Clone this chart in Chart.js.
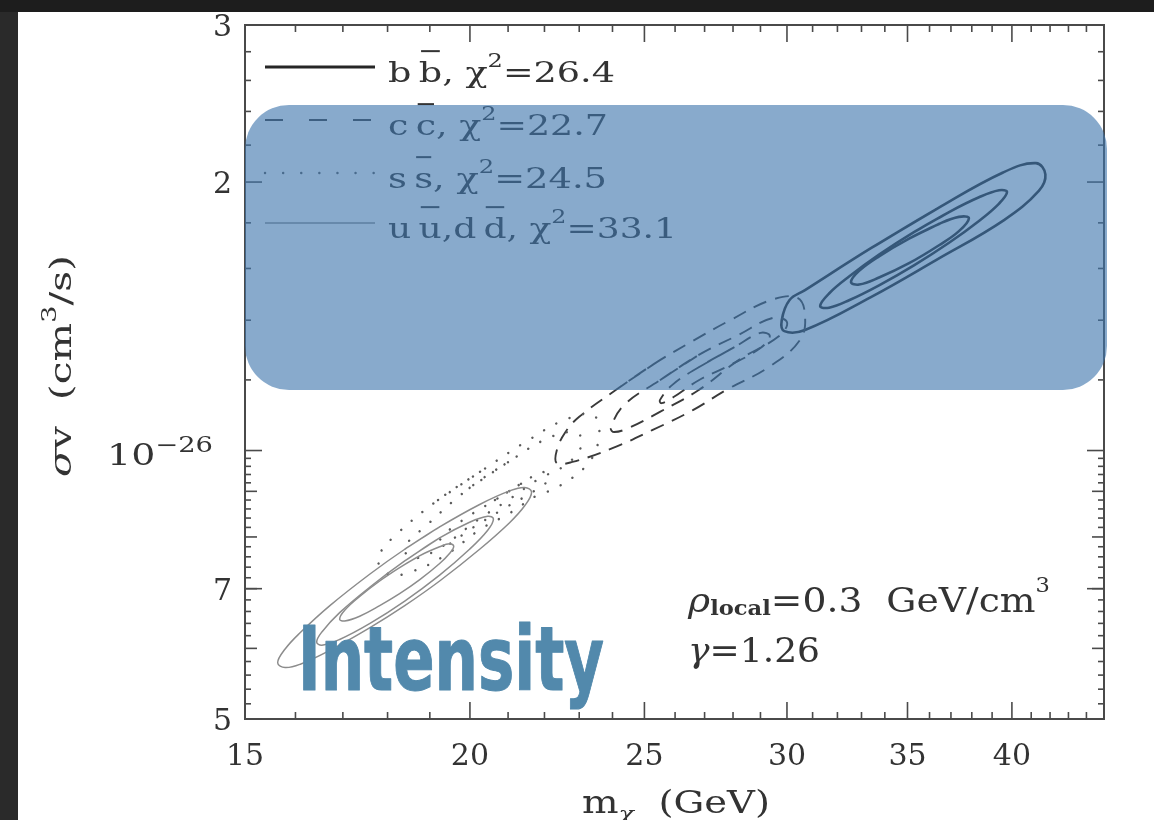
<!DOCTYPE html>
<html lang="en">
<head>
    <meta charset="UTF-8">
    <title>sigma v vs m_chi</title>
    <script src="https://cdn.jsdelivr.net/npm/chart.js"></script>
    <style>
        html, body { margin: 0; padding: 0; }
        body { width: 1154px; height: 820px; background: #1d1d1d; position: relative; overflow: hidden; }
        .leftband { position: absolute; left: 0; top: 12px; width: 18px; height: 808px; background: #2a2a2a; }
        .sheet { position: absolute; left: 18px; top: 12px; width: 1136px; height: 808px; background: #fff; }
        #plot { position: absolute; left: 0; top: 0; }
    </style>
</head>
<body>
    <div class="leftband"></div>
    <div class="sheet"></div>
    <canvas id="plot" width="1154" height="820"></canvas>
    <script>
        // mass (GeV) , sigma v (units of 1e-26 cm^3/s)
        const bbOuter = [[33.4,1.686],[36.3,1.864],[39.55,2.05],[41.25,2.10],[41.75,2.04],[41.4,1.955],[39.6,1.813],[36.3,1.635],[33.4,1.486],[30.7,1.365],[29.9,1.361],[29.8,1.40],[30.1,1.475],[30.7,1.513]];
        const bbMid = [[35.29,1.757],[36.91,1.851],[38.35,1.923],[39.35,1.958],[39.75,1.949],[39.35,1.892],[38.35,1.809],[36.91,1.710],[35.29,1.613],[33.75,1.532],[32.48,1.474],[31.66,1.446],[31.30,1.452],[31.66,1.500],[32.48,1.567],[33.75,1.658]];
        const bbInner = [[35.07,1.728],[36.44,1.795],[37.38,1.828],[37.86,1.822],[37.38,1.762],[36.44,1.699],[35.07,1.622],[33.75,1.563],[32.90,1.535],[32.56,1.545],[32.90,1.590],[33.75,1.651]];

        const ccOuter = [[24.1,1.169],[25.3,1.25],[26.6,1.327],[27.9,1.40],[29.4,1.475],[30.4,1.483],[30.7,1.418],[30.5,1.33],[29.3,1.24],[27.75,1.169],[26.6,1.11],[25.25,1.054],[24.0,1.006],[22.8,0.971],[22.35,0.968],[22.35,1.001],[22.6,1.049],[23.0,1.091]];
        const ccMid = [[25.5,1.199],[26.8,1.28],[28.2,1.348],[29.45,1.408],[30.0,1.393],[29.7,1.344],[28.2,1.263],[26.8,1.169],[25.5,1.105],[24.5,1.06],[24.05,1.049],[23.95,1.06],[24.35,1.124]];
        const ccInner = [[26.8,1.24],[28.05,1.306],[29.0,1.355],[29.35,1.344],[29.0,1.303],[27.9,1.247],[26.8,1.199],[25.95,1.148],[25.55,1.13],[25.5,1.139],[25.9,1.184]];

        const ssOuter = [[19.2,0.88],[20.33,0.951],[21.55,1.027],[22.57,1.082],[23.4,1.096],[23.6,1.049],[23.3,0.971],[22.34,0.908],[21.8,0.891],[21.05,0.851],[20.25,0.815],[19.4,0.764],[18.55,0.731],[18.05,0.726],[17.8,0.746],[17.8,0.764],[18.2,0.805]];
        const ssMid = [[19.99,0.908],[21.17,0.981],[21.98,1.027],[22.77,1.049],[23.1,1.027],[22.72,0.971],[21.8,0.927],[21.0,0.88],[20.2,0.836],[19.25,0.778],[18.6,0.757],[18.4,0.778],[18.93,0.825]];
        const ssInner = [[20.65,0.88],[21.43,0.922],[21.95,0.946],[22.1,0.927],[21.68,0.899],[20.91,0.862],[19.99,0.815],[19.4,0.783],[19.25,0.794],[19.74,0.831]];

        const uuOuter = [[18.40,0.775],[19.24,0.821],[20.25,0.870],[21.04,0.901],[21.45,0.909],[21.64,0.898],[21.45,0.867],[21.04,0.830],[20.25,0.775],[19.24,0.714],[18.40,0.670],[17.60,0.633],[16.72,0.597],[16.10,0.576],[15.79,0.571],[15.64,0.578],[15.79,0.599],[16.10,0.625],[16.72,0.670],[17.60,0.727]];
        const uuMid = [[18.40,0.752],[19.24,0.798],[19.99,0.831],[20.46,0.844],[20.61,0.838],[20.46,0.814],[19.99,0.775],[19.24,0.725],[18.40,0.678],[17.60,0.640],[16.93,0.614],[16.55,0.605],[16.44,0.610],[16.55,0.626],[16.93,0.658],[17.60,0.703]];
        const uuInner = [[18.28,0.739],[18.75,0.762],[19.24,0.780],[19.49,0.786],[19.59,0.781],[19.49,0.767],[19.24,0.747],[18.75,0.716],[18.28,0.691],[17.82,0.670],[17.37,0.652],[17.04,0.644],[16.93,0.647],[17.04,0.662],[17.37,0.686],[17.82,0.714]];

        const massTicks = [15, 20, 25, 30, 35, 40];
        const sigvTicks = [0.5, 0.7, 1, 2, 3];
        const sigvLabels = ['5', '7', '10', '2', '3'];
        const legendChi2 = ['26.4', '22.7', '24.5', '33.1'];

        const serif = '"DejaVu Serif", "Liberation Serif", serif';
        const ink = '#333';

        function loop(pts) {
            // repeat the first two points so the spline closes smoothly
            return pts.concat(pts.slice(0, 2)).map(p => ({ x: p[0], y: p[1] }));
        }

        const styles = {
            bb: { borderColor: '#262626', borderWidth: 2.6, borderDash: [] },
            cc: { borderColor: '#3a3a3a', borderWidth: 1.9, borderDash: [14, 9] },
            ss: { borderColor: '#5a5a5a', borderWidth: 2.4, borderDash: [0.1, 14], borderCapStyle: 'round' },
            uu: { borderColor: '#8c8c8c', borderWidth: 1.5, borderDash: [] }
        };

        function contour(pts, kind) {
            return Object.assign({ data: loop(pts), showLine: true, fill: false, tension: 0.4, pointRadius: 0 }, styles[kind]);
        }

        function partFont(p, size) {
            const s = (p.sup || p.sub) ? size * (p.scale || 0.66) : size;
            return (p.italic ? 'italic ' : '') + (p.bold ? 'bold ' : '') + s.toFixed(1) + 'px ' + serif;
        }
        function runWidth(ctx, parts, size) {
            let w = 0;
            for (const p of parts) { ctx.font = partFont(p, size); w += ctx.measureText(p.t).width; }
            return w;
        }
        function drawRun(ctx, parts, x, y, size, width, align) {
            const natural = runWidth(ctx, parts, size);
            const sx = width ? width / natural : 1;
            const total = natural * sx;
            const x0 = align === 'right' ? x - total : align === 'center' ? x - total / 2 : x;
            ctx.save();
            ctx.translate(x0, y);
            ctx.scale(sx, 1);
            ctx.textAlign = 'left';
            ctx.textBaseline = 'alphabetic';
            let cx = 0;
            for (const p of parts) {
                ctx.font = partFont(p, size);
                const dy = p.sup ? -(p.rise || 0.45) * size : p.sub ? (p.drop || 0.28) * size : 0;
                ctx.fillText(p.t, cx, dy);
                const w = ctx.measureText(p.t).width;
                if (p.over) ctx.fillRect(cx + w * 0.1, -1.18 * size, w * 0.8, 2);
                cx += w;
            }
            ctx.restore();
        }

        const legendRows = [
            { kind: 'bb', y: 67, width: 227, parts: [{ t: 'b\u2009' }, { t: 'b', over: true }, { t: ', \u03c7' }, { t: '2', sup: true, rise: 0.55 }, { t: '=' + legendChi2[0] }] },
            { kind: 'cc', y: 120, width: 220, parts: [{ t: 'c\u2009' }, { t: 'c', over: true }, { t: ', \u03c7' }, { t: '2', sup: true, rise: 0.55 }, { t: '=' + legendChi2[1] }] },
            { kind: 'ss', y: 173, width: 219, parts: [{ t: 's\u2009' }, { t: 's', over: true }, { t: ', \u03c7' }, { t: '2', sup: true, rise: 0.55 }, { t: '=' + legendChi2[2] }] },
            { kind: 'uu', y: 223, width: 289, parts: [{ t: 'u\u2009' }, { t: 'u', over: true }, { t: ',d\u2009' }, { t: 'd', over: true }, { t: ', \u03c7' }, { t: '2', sup: true, rise: 0.55 }, { t: '=' + legendChi2[3] }] }
        ];

        const decor = {
            id: 'decor',
            afterDatasetsDraw(chart) {
                const ctx = chart.ctx;
                const a = chart.chartArea;
                const xs = chart.scales.x, ys = chart.scales.y;
                ctx.save();

                // frame and inward ticks
                ctx.strokeStyle = '#4a4a4a';
                ctx.lineWidth = 2;
                ctx.strokeRect(a.left, a.top, a.right - a.left, a.bottom - a.top);
                ctx.lineWidth = 1.6;
                const seg = (x1, y1, x2, y2) => { ctx.beginPath(); ctx.moveTo(x1, y1); ctx.lineTo(x2, y2); ctx.stroke(); };
                for (let m = 15; m <= 44; m++) {
                    const len = massTicks.includes(m) ? 17 : 7;
                    const px = xs.getPixelForValue(m);
                    seg(px, a.bottom, px, a.bottom - len);
                    seg(px, a.top, px, a.top + len);
                }
                const yt = [];
                for (let k = 26; k <= 49; k++) yt.push([k / 50, k % 5 === 0 ? 12 : 6]);
                yt.push([1.2, 6], [1.4, 6], [1.6, 6], [1.8, 6], [2.2, 6], [2.4, 6], [2.6, 6], [2.8, 6]);
                sigvTicks.forEach(v => yt.push([v, 17]));
                yt.forEach(([v, len]) => {
                    const py = ys.getPixelForValue(v);
                    seg(a.left, py, a.left + len, py);
                    seg(a.right, py, a.right - len, py);
                });

                // tick labels
                ctx.fillStyle = ink;
                massTicks.forEach(m => drawRun(ctx, [{ t: String(m) }], xs.getPixelForValue(m), 765, 30, 0, 'center'));
                sigvTicks.forEach((v, i) => {
                    const py = ys.getPixelForValue(v) + 11;
                    if (v === 1) {
                        drawRun(ctx, [{ t: sigvLabels[i] }, { t: '\u221226', sup: true, rise: 0.43, scale: 0.72 }], 213, py + 3, 30, 106, 'right');
                    } else {
                        drawRun(ctx, [{ t: sigvLabels[i] }], 232, py, 30, 0, 'right');
                    }
                });

                // axis titles
                drawRun(ctx, [{ t: 'm' }, { t: '\u03c7', sub: true, drop: 0.25, italic: true }, { t: '  (GeV)' }], 676, 813, 32, 188, 'center');
                ctx.save();
                ctx.translate(71, 366);
                ctx.rotate(-Math.PI / 2);
                drawRun(ctx, [{ t: '\u03c3', italic: true }, { t: 'v  (cm' }, { t: '3', sup: true, rise: 0.5 }, { t: '/s)' }], 0, 0, 30, 222, 'center');
                ctx.restore();

                // legend
                legendRows.forEach(r => {
                    const st = styles[r.kind];
                    ctx.save();
                    ctx.strokeStyle = st.borderColor;
                    ctx.lineWidth = r.kind === 'bb' ? 3 : st.borderWidth;
                    ctx.lineCap = st.borderCapStyle || 'butt';
                    ctx.setLineDash(r.kind === 'cc' ? [18, 26] : r.kind === 'ss' ? [0.1, 18] : []);
                    seg(265, r.y, 375, r.y);
                    ctx.restore();
                    drawRun(ctx, r.parts, 388, r.y + 15, 27, r.width, 'left');
                });

                // parameter note
                drawRun(ctx, [{ t: '\u03c1', italic: true }, { t: 'local', sub: true, bold: true, scale: 0.6, drop: 0.1 }, { t: '=0.3  GeV/cm' }, { t: '3', sup: true, rise: 0.62, scale: 0.6 }], 688, 612, 33, 362, 'left');
                drawRun(ctx, [{ t: '\u03b3', italic: true }, { t: '=1.26' }], 688, 662, 33, 132, 'left');

                // presentation highlight box
                const hx = 245, hy = 105, hw = 862, hh = 285, r = 44;
                ctx.fillStyle = 'rgba(63,118,173,0.62)';
                ctx.beginPath();
                ctx.moveTo(hx + r, hy);
                ctx.lineTo(hx + hw - r, hy);
                ctx.arcTo(hx + hw, hy, hx + hw, hy + r, r);
                ctx.lineTo(hx + hw, hy + hh - r);
                ctx.arcTo(hx + hw, hy + hh, hx + hw - r, hy + hh, r);
                ctx.lineTo(hx + r, hy + hh);
                ctx.arcTo(hx, hy + hh, hx, hy + hh - r, r);
                ctx.lineTo(hx, hy + r);
                ctx.arcTo(hx, hy, hx + r, hy, r);
                ctx.closePath();
                ctx.fill();

                // overlay word
                ctx.font = 'bold 89px "Liberation Sans Narrow", "DejaVu Sans Condensed", "Liberation Sans", sans-serif';
                const w = ctx.measureText('Intensity').width;
                ctx.translate(298, 690);
                ctx.scale(306 / w, 1);
                ctx.fillStyle = '#5289ac';
                ctx.strokeStyle = '#5289ac';
                ctx.lineWidth = 1;
                ctx.lineJoin = 'round';
                ctx.textBaseline = 'alphabetic';
                ctx.fillText('Intensity', 0, 0);
                ctx.strokeText('Intensity', 0, 0);
                ctx.restore();
            }
        };

        new Chart(document.getElementById('plot'), {
            type: 'scatter',
            data: {
                datasets: [
                    contour(uuOuter, 'uu'), contour(uuMid, 'uu'), contour(uuInner, 'uu'),
                    contour(ssOuter, 'ss'), contour(ssMid, 'ss'), contour(ssInner, 'ss'),
                    contour(ccOuter, 'cc'), contour(ccMid, 'cc'), contour(ccInner, 'cc'),
                    contour(bbOuter, 'bb'), contour(bbMid, 'bb'), contour(bbInner, 'bb')
                ]
            },
            options: {
                responsive: false,
                animation: false,
                layout: { padding: { left: 245, top: 25, right: 50, bottom: 101 } },
                plugins: { legend: { display: false }, tooltip: { enabled: false } },
                scales: {
                    x: { type: 'logarithmic', min: 15, max: 45, display: false },
                    y: { type: 'logarithmic', min: 0.5, max: 3, display: false }
                }
            },
            plugins: [decor]
        });
    </script>
</body>
</html>
